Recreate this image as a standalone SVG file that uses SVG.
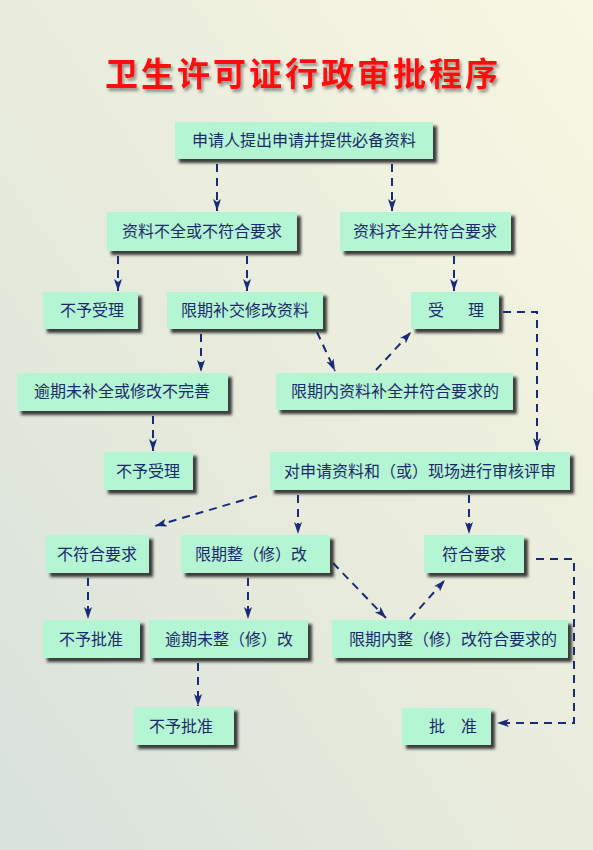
<svg xmlns="http://www.w3.org/2000/svg" width="593" height="850" viewBox="0 0 593 850">
<defs>
<linearGradient id="bg" x1="1" y1="0" x2="0" y2="1">
<stop offset="0" stop-color="#f8f7e3"/>
<stop offset="0.5" stop-color="#e9ecdc"/>
<stop offset="1" stop-color="#d8e1dc"/>
</linearGradient>
<filter id="sh" x="-10%" y="-20%" width="130%" height="160%">
<feDropShadow dx="4" dy="4" stdDeviation="1.6" flood-color="#2a2a2a" flood-opacity="0.9"/>
</filter>
<filter id="tsh" x="-5%" y="-20%" width="110%" height="160%">
<feDropShadow dx="2" dy="3" stdDeviation="1.5" flood-color="#555" flood-opacity="0.6"/>
</filter>
<marker id="ah" markerUnits="userSpaceOnUse" markerWidth="14" markerHeight="10" refX="12" refY="4" orient="auto">
<path d="M0,0 L12,4 L0,8 L3,4 z" fill="#1b2a78"/>
</marker>
</defs>
<style>
.box rect{fill:#b4f5d4;filter:url(#sh)}
.box text{font-family:"Noto Sans CJK SC","Noto Sans",sans-serif;font-size:16px;fill:#1c2a6a;text-anchor:middle}
#connectors path{fill:none;stroke:#1b2a78;stroke-width:2;stroke-dasharray:8 6;marker-end:url(#ah)}
</style>
<rect width="593" height="850" fill="url(#bg)"/>
<text x="303" y="86" font-family="'Noto Sans CJK SC',sans-serif" font-size="33" font-weight="bold" letter-spacing="3" fill="#ff1010" text-anchor="middle" filter="url(#tsh)">卫生许可证行政审批程序</text>

<g id="connectors">
<path d="M217,164 V211"/>
<path d="M392,164 V211"/>
<path d="M118,256 V291"/>
<path d="M247,256 V291"/>
<path d="M454,256 V291"/>
<path d="M201,334 V372"/>
<path d="M317,332 L335,371"/>
<path d="M376,370 L411,332"/>
<path d="M503,312 H537 V450"/>
<path d="M153,416 V451"/>
<path d="M257,496 L155,526"/>
<path d="M298,495 V534"/>
<path d="M469,495 V534"/>
<path d="M88,578 V619"/>
<path d="M248,578 V619"/>
<path d="M333,563 L386,618"/>
<path d="M410,619 L445,580"/>
<path d="M536,559 H574 V723 H497"/>
<path d="M198,663 V706"/>
</g>

<g id="n1" class="box"><rect x="175" y="122" width="258" height="37"/><text x="304" y="146">申请人提出申请并提供必备资料</text></g>
<g id="n2" class="box"><rect x="107" y="212" width="190" height="39"/><text x="202" y="237">资料不全或不符合要求</text></g>
<g id="n3" class="box"><rect x="340" y="212" width="171" height="39"/><text x="425" y="237">资料齐全并符合要求</text></g>
<g id="n4" class="box"><rect x="43" y="292" width="95" height="37"/><text x="92" y="316">不予受理</text></g>
<g id="n5" class="box"><rect x="167" y="292" width="156" height="37"/><text x="245" y="316">限期补交修改资料</text></g>
<g id="n6" class="box"><rect x="411" y="292" width="88" height="37"/><text x="436" y="316">受</text><text x="476" y="316">理</text></g>
<g id="n7" class="box"><rect x="17" y="373" width="211" height="38"/><text x="122" y="397">逾期未补全或修改不完善</text></g>
<g id="n8" class="box"><rect x="276" y="373" width="237" height="37"/><text x="395" y="397">限期内资料补全并符合要求的</text></g>
<g id="n9" class="box"><rect x="104" y="452" width="89" height="38"/><text x="148" y="477">不予受理</text></g>
<g id="n10" class="box"><rect x="270" y="452" width="300" height="38"/><text x="420" y="477">对申请资料和（或）现场进行审核评审</text></g>
<g id="n11" class="box"><rect x="46" y="535" width="103" height="38"/><text x="97" y="560">不符合要求</text></g>
<g id="n12" class="box"><rect x="181" y="535" width="149" height="38"/><text x="251" y="560">限期整（修）改</text></g>
<g id="n13" class="box"><rect x="424" y="535" width="100" height="38"/><text x="474" y="560">符合要求</text></g>
<g id="n14" class="box"><rect x="43" y="620" width="97" height="38"/><text x="91" y="645">不予批准</text></g>
<g id="n15" class="box"><rect x="149" y="620" width="159" height="38"/><text x="229" y="645">逾期未整（修）改</text></g>
<g id="n16" class="box"><rect x="332" y="620" width="236" height="38"/><text x="453" y="645">限期内整（修）改符合要求的</text></g>
<g id="n17" class="box"><rect x="134" y="707" width="100" height="38"/><text x="181" y="732">不予批准</text></g>
<g id="n18" class="box"><rect x="402" y="708" width="89" height="37"/><text x="453" y="732">批　准</text></g>
</svg>
